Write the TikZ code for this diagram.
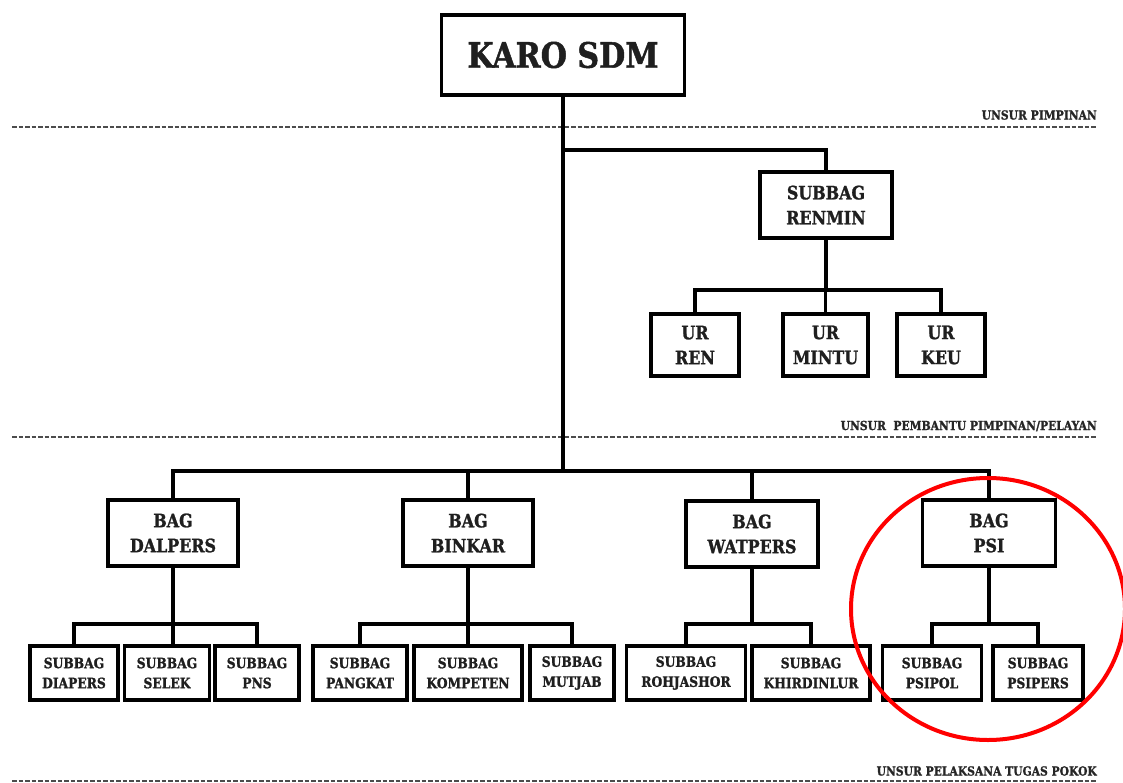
\documentclass[tikz,border=0pt]{standalone}
\usepackage{fontspec}
\setmainfont{DejaVu Serif}[FakeStretch=0.86,BoldFeatures={FakeBold=1.3}]
\begin{document}
\begin{tikzpicture}[x=1pt,y=-1pt,
  box/.style={draw=black,line width=3.4pt,fill=white,align=center,inner sep=0pt,text=black!88},
  big/.style={box,font=\bfseries\fontsize{35}{40}\selectfont},
  mid/.style={box,font=\bfseries\fontsize{18.5}{25}\selectfont},
  small/.style={box,font=\bfseries\fontsize{14.3}{20}\selectfont,minimum height=54},
  conn/.style={line width=3.2pt,black},
  sepline/.style={dash pattern=on 4.5pt off 2pt,line width=2.4pt,black!70},
  lbl/.style={anchor=east,inner sep=0pt,text=black!85,font=\bfseries\fontsize{12.5}{14}\selectfont}]
\useasboundingbox (0,0) rectangle (1123,783);

% separators
\coordinate (s1a) at (12,127);  \coordinate (s1b) at (1097,127);
\coordinate (s2a) at (12,437);  \coordinate (s2b) at (1097,437);
\coordinate (s3a) at (12,781);  \coordinate (s3b) at (1097,781);
\draw[sepline] (s1a) -- (s1b);
\draw[sepline] (s2a) -- (s2b);
\draw[sepline] (s3a) -- (s3b);
\node[lbl] (l1) at (1097,115) {UNSUR PIMPINAN};
\node[lbl] (l2) at (1097,426) {UNSUR\ \ PEMBANTU PIMPINAN/PELAYAN};
\node[lbl] (l3) at (1097,771) {UNSUR PELAKSANA TUGAS POKOK};

% bus levels
\coordinate (busR) at (0,150);
\coordinate (busU) at (0,290);
\coordinate (busA) at (0,471);
\coordinate (busS) at (0,624);

% nodes
\node[big,minimum width=243,minimum height=80] (karo) at (563,55) {KARO SDM};
\node[mid,minimum width=132,minimum height=66] (renmin) at (826,205) {SUBBAG\\RENMIN};
\node[mid,minimum width=88,minimum height=62] (urren) at (695,345) {UR\\REN};
\node[mid,minimum width=85,minimum height=62] (urmintu) at (825.5,345) {UR\\MINTU};
\node[mid,minimum width=88,minimum height=62] (urkeu) at (941,345) {UR\\KEU};

\node[mid,minimum width=130,minimum height=66] (dalpers) at (173,533) {BAG\\DALPERS};
\node[mid,minimum width=130,minimum height=66] (binkar) at (468,533) {BAG\\BINKAR};
\node[mid,minimum width=132,minimum height=66] (watpers) at (752,534) {BAG\\WATPERS};
\node[mid,minimum width=133,minimum height=66] (psi) at (989,533) {BAG\\PSI};

\node[small,minimum width=88] (diapers) at (74,673) {SUBBAG\\DIAPERS};
\node[small,minimum width=85] (selek) at (167,673) {SUBBAG\\SELEK};
\node[small,minimum width=84] (pns) at (257,673) {SUBBAG\\PNS};
\node[small,minimum width=94] (pangkat) at (360,673) {SUBBAG\\PANGKAT};
\node[small,minimum width=108] (kompeten) at (468,673) {SUBBAG\\KOMPETEN};
\node[small,minimum width=84] (mutjab) at (572,673) {SUBBAG\\MUTJAB};
\node[small,minimum width=119] (rohjashor) at (686,673) {SUBBAG\\ROHJASHOR};
\node[small,minimum width=118] (khirdinlur) at (811,673) {SUBBAG\\KHIRDINLUR};
\node[small,minimum width=99] (psipol) at (932,673) {SUBBAG\\PSIPOL};
\node[small,minimum width=90] (psipers) at (1038,673) {SUBBAG\\PSIPERS};

% connectors
\draw[conn] (karo.south) -- (karo.south |- busA);
\draw[conn] (karo.south |- busR) -- (renmin.north |- busR) -- (renmin.north);
\draw[conn] (renmin.south) -- (renmin.south |- busU);
\draw[conn] (urren.north) -- (urren.north |- busU) -- (urkeu.north |- busU) -- (urkeu.north);
\draw[conn] (urmintu.north |- busU) -- (urmintu.north);

\draw[conn] (dalpers.north) -- (dalpers.north |- busA) -- (psi.north |- busA) -- (psi.north);
\draw[conn] (binkar.north |- busA) -- (binkar.north);
\draw[conn] (watpers.north |- busA) -- (watpers.north);

\draw[conn] (dalpers.south) -- (selek.north -| dalpers.south);
\draw[conn] (diapers.north) -- (diapers.north |- busS) -- (pns.north |- busS) -- (pns.north);

\draw[conn] (binkar.south) -- (kompeten.north);
\draw[conn] (pangkat.north) -- (pangkat.north |- busS) -- (mutjab.north |- busS) -- (mutjab.north);

\draw[conn] (watpers.south) -- (watpers.south |- busS);
\draw[conn] (rohjashor.north) -- (rohjashor.north |- busS) -- (khirdinlur.north |- busS) -- (khirdinlur.north);

\draw[conn] (psi.south) -- (psi.south |- busS);
\draw[conn] (psipol.north) -- (psipol.north |- busS) -- (psipers.north |- busS) -- (psipers.north);

% highlight
\draw[red,line width=4pt] (988,609) ellipse [x radius=137,y radius=131];
\end{tikzpicture}
\end{document}
